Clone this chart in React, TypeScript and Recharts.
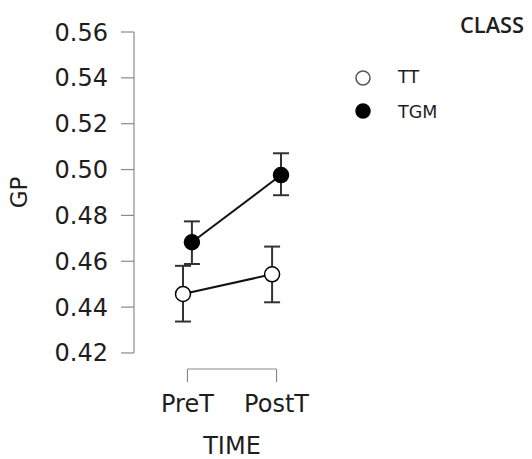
import React from 'react';
import { ScatterChart, Scatter, XAxis, YAxis, ErrorBar, ReferenceLine, Legend } from 'recharts';

const categories = ['PreT', 'PostT'];
const seriesNames = ['TT', 'TGM'];
const ttMean = [0.4457, 0.4543];
const ttLow = [0.4337, 0.4421];
const ttHigh = [0.458, 0.4664];
const tgmMean = [0.4683, 0.4976];
const tgmLow = [0.4588, 0.4888];
const tgmHigh = [0.4774, 0.5071];
const yTicks = [0.42, 0.44, 0.46, 0.48, 0.5, 0.52, 0.54, 0.56];
const xTicks = [1, 2];

const DODGE = 0.05;
const Y_MIN = 0.413;
const FONT = 'DejaVu Sans';
const AXIS_GRAY = '#8a8a8a';
const TEXT = '#1e1e1e';

const build = (mean: number[], low: number[], high: number[], shift: number) =>
  mean.map((m, i) => ({
    x: i + 1 + shift,
    y: m,
    err: [m - low[i], high[i] - m],
    cat: categories[i],
  }));

const ttData = build(ttMean, ttLow, ttHigh, -DODGE);
const tgmData = build(tgmMean, tgmLow, tgmHigh, DODGE);

const fills: Record<string, string> = { TT: '#ffffff', TGM: '#000000' };

const makeShape = (fill: string) => (props: any) => (
  <circle cx={props.cx} cy={props.cy} r={7.5} fill={fill} stroke="#000" strokeWidth={1.5} />
);

const renderLegend = () => (
  <svg width={184} height={130} style={{ display: 'block' }}>
    <text
      x={112}
      y={25}
      fontSize={22}
      fontFamily="Open Sans"
      fontWeight={600}
      fill={TEXT}
      textLength={64}
      lengthAdjust="spacingAndGlyphs"
    >
      CLASS
    </text>
    {seriesNames.map((name, i) => (
      <g key={name}>
        <circle cx={15} cy={70 + i * 33} r={7} fill={fills[name]} stroke={i === 0 ? '#555' : '#000'} strokeWidth={1.5} />
        <text x={50} y={75 + i * 35} fontSize={17.5} fontFamily={FONT} fill={TEXT}>
          {name}
        </text>
      </g>
    ))}
  </svg>
);

const YLabel = () => (
  <text
    transform="translate(27,192.5) rotate(-90)"
    textAnchor="middle"
    fontSize={23}
    fontFamily={FONT}
    fill={TEXT}
  >
    GP
  </text>
);

export default function App() {
  return (
    <div style={{ position: 'absolute', left: 0, top: 0, width: 532, height: 459, overflow: 'hidden' }}>
      <ScatterChart
        width={532}
        height={459}
        margin={{ top: 32, right: 202, bottom: 0, left: 8 }}
        style={{ fontFamily: FONT }}
      >
        <XAxis
          type="number"
          dataKey="x"
          domain={[0.4, 2.6]}
          ticks={xTicks}
          tickFormatter={(v: number) => categories[v - 1]}
          axisLine={false}
          tickLine={{ stroke: AXIS_GRAY, strokeWidth: 1.2 }}
          tickSize={13}
          tickMargin={13}
          height={90}
          tick={{ fill: TEXT, fontSize: 24, fontFamily: FONT }}
          label={{ value: 'TIME', position: 'insideBottom', offset: 5, fontSize: 24, fill: TEXT, fontFamily: FONT }}
        />
        <YAxis
          type="number"
          dataKey="y"
          domain={[Y_MIN, 0.56]}
          ticks={yTicks}
          tickFormatter={(v: number) => v.toFixed(2)}
          axisLine={false}
          tickLine={{ stroke: AXIS_GRAY, strokeWidth: 1.2 }}
          tickSize={13}
          tickMargin={13}
          width={126}
          tick={{ fill: TEXT, fontSize: 24, fontFamily: FONT }}
          label={<YLabel />}
        />
        <ReferenceLine
          segment={[{ x: 0.4, y: 0.42 }, { x: 0.4, y: 0.56 }]}
          stroke={AXIS_GRAY}
          strokeWidth={1.2}
          ifOverflow="visible"
        />
        <ReferenceLine
          segment={[{ x: 1, y: Y_MIN }, { x: 2, y: Y_MIN }]}
          stroke={AXIS_GRAY}
          strokeWidth={1.2}
          ifOverflow="visible"
        />
        <Legend
          layout="horizontal"
          verticalAlign="middle"
          align="center"
          content={renderLegend}
          wrapperStyle={{ left: 348, top: 8, width: 184, height: 130 }}
        />
        <Scatter
          name="TT"
          data={ttData}
          fill="#ffffff"
          line={{ stroke: '#111', strokeWidth: 2 }}
          lineType="joint"
          shape={makeShape('#ffffff')}
          isAnimationActive={false}
        >
          <ErrorBar dataKey="err" direction="y" width={8} stroke="#333" strokeWidth={2} />
        </Scatter>
        <Scatter
          name="TGM"
          data={tgmData}
          fill="#000000"
          line={{ stroke: '#111', strokeWidth: 2 }}
          lineType="joint"
          shape={makeShape('#000000')}
          isAnimationActive={false}
        >
          <ErrorBar dataKey="err" direction="y" width={8} stroke="#333" strokeWidth={2} />
        </Scatter>
      </ScatterChart>
    </div>
  );
}
